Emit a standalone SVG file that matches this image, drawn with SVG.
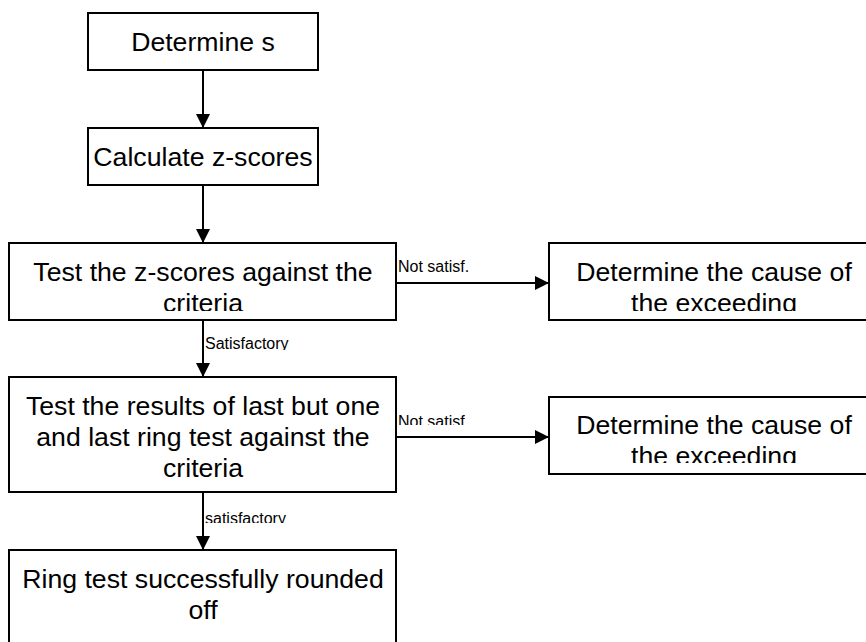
<svg xmlns="http://www.w3.org/2000/svg" width="866" height="642" viewBox="0 0 866 642">
<style>
.box{fill:#fff;stroke:#000;stroke-width:2}
.t{font-family:"Liberation Sans",Arial,sans-serif;font-size:26.67px;fill:#000;text-anchor:middle}
.lb{font-family:"Liberation Sans",Arial,sans-serif;font-size:16px;fill:#000}
.c{stroke:#000;stroke-width:2;fill:none}
</style>
<defs>
<marker id="ah" viewBox="0 0 14 14" refX="14" refY="7" markerWidth="14" markerHeight="14" markerUnits="userSpaceOnUse" orient="auto">
<path d="M0,0 L14,7 L0,14 Z" fill="#000"/>
</marker>
<clipPath id="c3"><rect x="9" y="243" width="387" height="68"/></clipPath>
<clipPath id="cr1"><rect x="549" y="243" width="400" height="68"/></clipPath>
<clipPath id="cr2"><rect x="549" y="397" width="400" height="66"/></clipPath>
<clipPath id="cl2"><rect x="200" y="330" width="120" height="20"/></clipPath>
<clipPath id="cl3"><rect x="396" y="405" width="120" height="20"/></clipPath>
<clipPath id="cl4"><rect x="200" y="500" width="120" height="23"/></clipPath>
</defs>
<g id="connectors">
<line class="c" x1="203" y1="70" x2="203" y2="128" marker-end="url(#ah)"/>
<line class="c" x1="203" y1="185" x2="203" y2="243" marker-end="url(#ah)"/>
<line class="c" x1="203" y1="320" x2="203" y2="377" marker-end="url(#ah)"/>
<line class="c" x1="396" y1="283" x2="549" y2="283" marker-end="url(#ah)"/>
<line class="c" x1="203" y1="492" x2="203" y2="550" marker-end="url(#ah)"/>
<line class="c" x1="396" y1="437" x2="549" y2="437" marker-end="url(#ah)"/>
<text class="lb" x="398" y="272">Not satisf.</text>
<text class="lb" x="205" y="349" clip-path="url(#cl2)">Satisfactory</text>
<text class="lb" x="398" y="427" clip-path="url(#cl3)">Not satisf.</text>
<text class="lb" x="205" y="524" clip-path="url(#cl4)">satisfactory</text>
</g>
<g id="n1">
<rect class="box" x="88" y="13" width="230" height="57"/>
<text class="t" x="203" y="51">Determine s</text>
</g>
<g id="n2">
<rect class="box" x="88" y="128" width="230" height="57"/>
<text class="t" x="203" y="166">Calculate z-scores</text>
</g>
<g id="n3">
<rect class="box" x="9" y="243" width="387" height="77"/>
<text class="t" clip-path="url(#c3)"><tspan x="203" y="281">Test the z-scores against the</tspan><tspan x="203" y="312">criteria</tspan></text>
</g>
<g id="n4">
<rect class="box" x="549" y="243" width="330" height="77"/>
<text class="t" clip-path="url(#cr1)"><tspan x="714" y="281">Determine the cause of</tspan><tspan x="714" y="312">the exceeding</tspan></text>
</g>
<g id="n5">
<rect class="box" x="9" y="377" width="387" height="115"/>
<text class="t"><tspan x="203" y="415">Test the results of last but one</tspan><tspan x="203" y="446">and last ring test against the</tspan><tspan x="203" y="477">criteria</tspan></text>
</g>
<g id="n6">
<rect class="box" x="549" y="397" width="330" height="77"/>
<text class="t" clip-path="url(#cr2)"><tspan x="714" y="434">Determine the cause of</tspan><tspan x="714" y="465">the exceeding</tspan></text>
</g>
<g id="n7">
<rect class="box" x="9" y="550" width="387" height="110"/>
<text class="t"><tspan x="203" y="588">Ring test successfully rounded</tspan><tspan x="203" y="619">off</tspan></text>
</g>
</svg>
